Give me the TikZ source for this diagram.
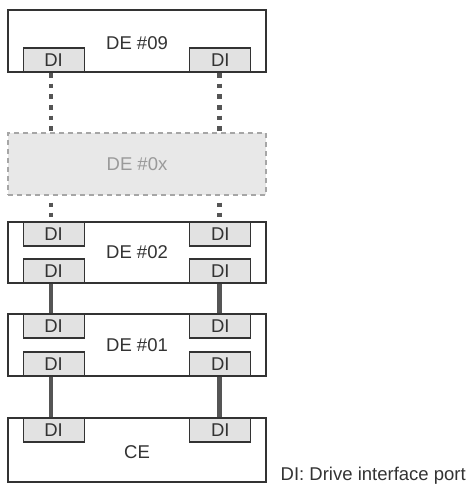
\documentclass[tikz,border=0pt]{standalone}
\usepackage{fontspec}
\setmainfont{Liberation Sans}
\usetikzlibrary{calc}
\definecolor{boxline}{HTML}{333333}
\definecolor{difill}{HTML}{E2E2E2}
\definecolor{ghostfill}{HTML}{E8E8E8}
\definecolor{ghostline}{HTML}{A6A6A6}
\definecolor{ghosttext}{HTML}{9A9A9A}
\definecolor{linkcol}{HTML}{555555}
\begin{document}
\begin{tikzpicture}[x=1pt,y=-1pt,
  every node/.style={font=\fontsize{18.5}{22}\selectfont, inner sep=0pt, text=boxline},
  unitbox/.style={draw=boxline, line width=1.1pt, fill=white, minimum width=258pt},
  ghostbox/.style={draw=ghostline, line width=1.1pt, dash pattern=on 5pt off 4pt, fill=ghostfill, minimum width=258pt, minimum height=62pt, text=ghosttext},
  diport/.style={draw=boxline, line width=1.1pt, fill=difill, minimum width=61pt, minimum height=24pt},
  solidlink/.style={draw=linkcol, line width=4.5pt},
  dotlink/.style={draw=linkcol, line width=4.5pt, dash pattern=on 4.6pt off 6pt},
  dotlinkb/.style={draw=linkcol, line width=4.5pt, dash pattern=on 0pt off 7pt on 4.6pt off 5.5pt on 4.6pt off 30pt}]
\useasboundingbox (0,0) rectangle (469,484);

% enclosures
\node[unitbox, minimum height=62pt] (de09) at (137,41) {};
\node at (137,43.5) (t09) {DE \#09};
\node[ghostbox] (de0x) at (137,164) {DE \#0x};
\node[unitbox, minimum height=61pt] (de02) at (137,252.5) {DE \#02};
\node[unitbox, minimum height=62pt] (de01) at (137,345) {DE \#01};
\node[unitbox, minimum height=64pt] (ce) at (137,450) {};
\node at (137,452.5) (tce) {CE};

% ports
\node[diport] (p09l) at (53.6,60) {DI};
\node[diport] (p09r) at (220.3,60) {DI};
\node[diport] (p02lt) at (53.6,234) {DI};
\node[diport] (p02rt) at (220.3,234) {DI};
\node[diport] (p02lb) at (53.6,271) {DI};
\node[diport] (p02rb) at (220.3,271) {DI};
\node[diport] (p01lt) at (53.6,326) {DI};
\node[diport] (p01rt) at (220.3,326) {DI};
\node[diport] (p01lb) at (53.6,364) {DI};
\node[diport] (p01rb) at (220.3,364) {DI};
\node[diport] (pcel) at (53.6,430) {DI};
\node[diport] (pcer) at (220.3,430) {DI};

% connectors
\coordinate (a1) at ($(p09l.south)+(-2.8,0.6)$);
\coordinate (a2) at ($(p09r.south)+(-1,0.6)$);
\path[dotlink] (a1) -- (a1 |- de0x.north);
\path[dotlink] (a2) -- (a2 |- de0x.north);
\coordinate (b1) at ($(p02lt.north)+(-2.8,0)$);
\coordinate (b2) at ($(p02rt.north)+(-1,0)$);
\path[dotlinkb] (b1 |- de0x.south) -- (b1);
\path[dotlinkb] (b2 |- de0x.south) -- (b2);
\coordinate (c1) at ($(p02lb.south)+(-2.8,0.5)$);
\coordinate (c2) at ($(p02rb.south)+(-1,0.5)$);
\path[solidlink] (c1) -- (c1 |- p01lt.north);
\path[solidlink] (c2) -- (c2 |- p01rt.north);
\coordinate (e1) at ($(p01lb.south)+(-2.8,0.5)$);
\coordinate (e2) at ($(p01rb.south)+(-1,0.5)$);
\path[solidlink] (e1) -- (e1 |- pcel.north);
\path[solidlink] (e2) -- (e2 |- pcer.north);

% legend
\node[anchor=base west] (legend) at (280.5,480.5) {DI: Drive interface port};
\end{tikzpicture}
\end{document}
